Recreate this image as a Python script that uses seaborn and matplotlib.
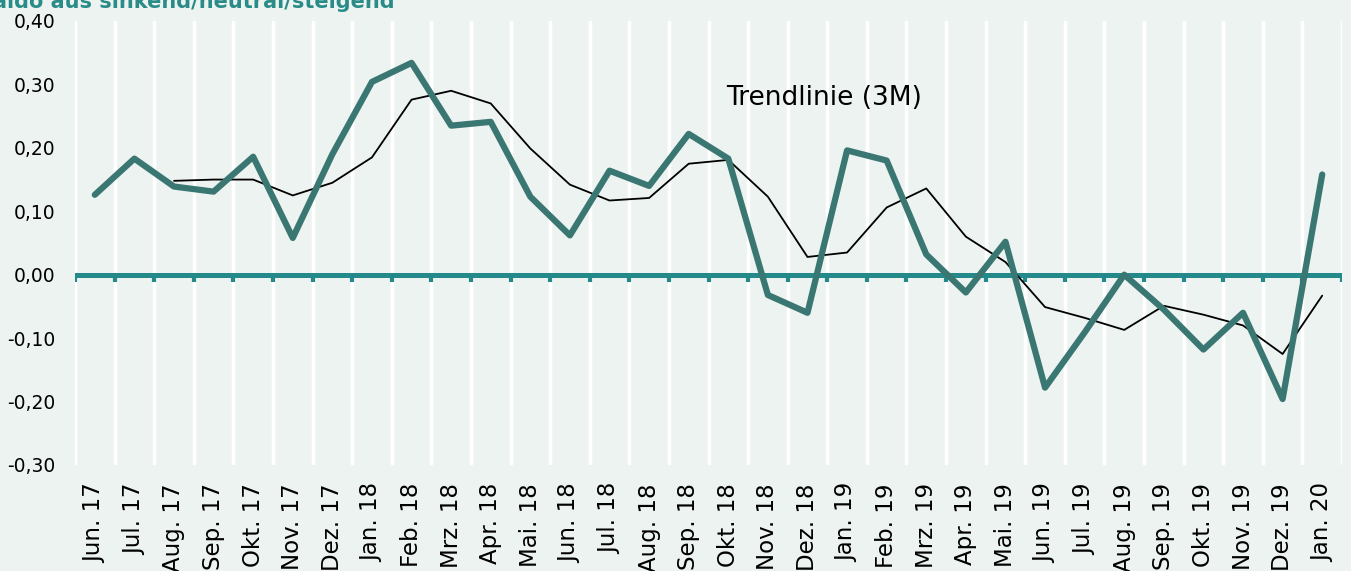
import numpy as np
import pandas as pd
import matplotlib
matplotlib.use('Agg')
import matplotlib.pyplot as plt
import seaborn as sns

months = ['Jun. 17', 'Jul. 17', 'Aug. 17', 'Sep. 17', 'Okt. 17', 'Nov. 17', 'Dez. 17',
          'Jan. 18', 'Feb. 18', 'Mrz. 18', 'Apr. 18', 'Mai. 18', 'Jun. 18', 'Jul. 18',
          'Aug. 18', 'Sep. 18', 'Okt. 18', 'Nov. 18', 'Dez. 18', 'Jan. 19', 'Feb. 19',
          'Mrz. 19', 'Apr. 19', 'Mai. 19', 'Jun. 19', 'Jul. 19', 'Aug. 19', 'Sep. 19',
          'Okt. 19', 'Nov. 19', 'Dez. 19', 'Jan. 20']

saldo = [0.126, 0.183, 0.139, 0.131, 0.186, 0.058, 0.190, 0.304, 0.334, 0.235,
         0.241, 0.123, 0.062, 0.164, 0.140, 0.222, 0.183, -0.032, -0.060, 0.196,
         0.180, 0.032, -0.028, 0.052, -0.178, -0.091, 0.000, -0.055, -0.118, -0.060,
         -0.196, 0.158]

trend = [np.nan, np.nan, 0.148, 0.150, 0.150, 0.125, 0.145, 0.185, 0.276, 0.290,
         0.270, 0.199, 0.142, 0.117, 0.121, 0.175, 0.181, 0.123, 0.028, 0.035,
         0.106, 0.136, 0.060, 0.020, -0.051, -0.068, -0.087, -0.049, -0.063, -0.080,
         -0.125, -0.033]

y_ticks = [0.40, 0.30, 0.20, 0.10, 0.00, -0.10, -0.20, -0.30]

bg = '#edf3f0'
teal_line = '#3a7773'
teal_axis = '#23898a'

sns.set_style('white')
plt.rcParams['font.family'] = ['DejaVu Sans']
plt.rcParams['xtick.color'] = 'black'
plt.rcParams['ytick.color'] = 'black'
plt.rcParams['text.color'] = 'black'

df = pd.DataFrame({'pos': np.arange(len(months)), 'saldo': saldo, 'trend': trend})

fig = plt.figure(figsize=(13.51, 5.71), dpi=100)
fig.patch.set_facecolor(bg)
ax = fig.add_axes([75 / 1351, 106 / 571, (1342 - 75) / 1351, (465 - 21) / 571])
ax.set_facecolor(bg)

# vertical white grid at category boundaries
bounds = np.arange(len(months) + 1) - 0.5
ax.set_xticks(bounds, minor=True)
ax.grid(True, which='minor', axis='x', color='white', linewidth=2.5)
ax.grid(False, which='major')
ax.set_axisbelow(True)

# zero line with small downward ticks
ax.axhline(0, color=teal_axis, linewidth=3.6, zorder=2)
ax.vlines(bounds, -0.011, 0, color=teal_axis, linewidth=3, zorder=2)

sns.lineplot(data=df, x='pos', y='trend', ax=ax, color='black', linewidth=1.3, zorder=3)
sns.lineplot(data=df, x='pos', y='saldo', ax=ax, color=teal_line, linewidth=4.5, zorder=4)

ax.set_xlim(-0.5, len(months) - 0.5)
ax.set_ylim(-0.30, 0.40)
ax.set_yticks(y_ticks)
ax.set_yticklabels([f'{v:.2f}'.replace('.', ',') for v in y_ticks], fontsize=13.5, color='black')
ax.set_xticks(df['pos'])
ax.set_xticklabels(months, rotation=90, fontsize=16.5, color='black')
ax.tick_params(axis='both', which='both', length=0)
ax.tick_params(axis='y', pad=14)
ax.tick_params(axis='x', pad=13)
ax.set_xlabel('')
ax.set_ylabel('')
for s in ax.spines.values():
    s.set_visible(False)

ax.text(15.95, 0.279, 'Trendlinie (3M)', fontsize=19, va='center', ha='left', color='black')

fig.text(395 / 1351, 1 - 8 / 571, 'Saldo aus sinkend/neutral/steigend', ha='right', va='baseline',
         fontsize=15, fontweight='bold', color='#2a8c88')

fig.savefig('out.png', dpi=100, facecolor=bg)
